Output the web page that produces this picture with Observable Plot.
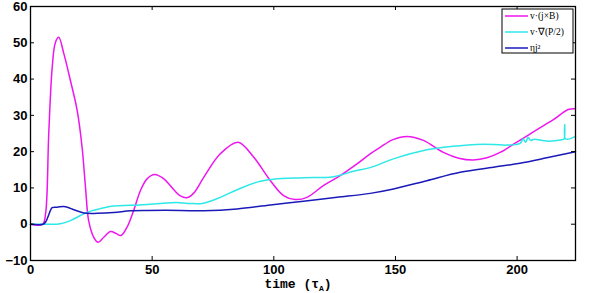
<!DOCTYPE html>
<html>
<head>
<meta charset="utf-8">
<script src="https://cdn.jsdelivr.net/npm/d3@7"></script>
<script src="https://cdn.jsdelivr.net/npm/@observablehq/plot@0.6"></script>
<style>
  html, body { margin: 0; padding: 0; background: #fff; }
  #chart svg { display: block; }
</style>
</head>
<body>
<div id="chart"></div>
<script>
// ---- data ----
const seriesNames = ["v·(j×B)", "v·∇(P/2)", "ηj²"];
const seriesColors = ["#ee16ee", "#2ee8e8", "#1a1ab8"];

const jxbTime = [0,5,6.2,7.5,8.9,10.2,11.6,13.7,16.4,19.2,21.2,22.6,23.9,26,27.8,30.1,32.9,35.3,37.2,39.7,42.4,45.2,47.9,51,54.8,58.9,61.6,64.3,67,71.2,78,85.3,91.7,98.6,104,108.8,113.6,120.5,127.3,134.2,139.6,143.7,149,154.7,161.5,169.7,176,182,187.6,193,199.9,208,214.9,221,224];
const jxbValue = [0,0,2.9,25,43,50,51.5,47,39.6,31.3,21.2,10.2,1,-3.6,-5,-3.6,-2.0,-2.6,-3.1,-0.8,3.8,9.3,12.5,13.7,12.5,9.5,7.8,7.3,8.5,12.9,19.4,22.6,18.5,12,7.9,6.8,7.4,10.7,13.4,16.6,19.4,21.2,23.3,24.2,23.1,19.8,18.2,17.7,18.3,19.8,22.6,26,28.8,31.6,31.8];

const gradPTime = [0,10,12.3,16.4,20.5,24.6,28.7,34.2,41,47.9,54.7,60,65.7,71.2,78,84.9,93.1,99.9,112.2,124.6,132.8,139.6,149.2,162.9,173.8,183.4,190.3,195.8,201.2,202.5,203.5,204.5,205.5,207,212.2,218.4,219.3,219.6,219.9,224];
const gradPValue = [0,0,0.1,1,2.4,3.6,4.3,5,5.2,5.4,5.8,6,5.7,5.8,7.4,9.5,11.6,12.4,12.8,13.1,14.6,15.6,18,20.5,21.5,22,22,21.8,22.3,23.5,22.6,24,23.1,23.4,22.9,23.3,23.5,27.4,23.5,24.2];

const ohmTime = [0,5.2,6.2,7.1,8.2,8.9,11,13.7,15.5,17.8,21.9,27.4,34.2,41,47.9,61.6,71.2,84.9,98.6,112.2,126,139.6,149.2,162.9,176.6,190.3,201.2,212.2,224];
const ohmValue = [0,0,0.6,1.9,3.8,4.6,4.7,4.9,4.6,4.0,3.1,3.0,3.2,3.7,3.8,3.8,3.7,4.2,5.3,6.3,7.4,8.5,9.7,12,14.3,15.7,16.8,18.3,20];

const xTicks = [0, 50, 100, 150, 200];
const yTicks = [-10, 0, 10, 20, 30, 40, 50, 60];
const xDomain = [0, 224];
const yDomain = [-10, 60];
const xLabelText = "time (τ";
const xLabelSub = "A";

// ---- build table ----
const rows = [];
[[jxbTime, jxbValue], [gradPTime, gradPValue], [ohmTime, ohmValue]].forEach(([ts, vs], i) => {
  ts.forEach((t, j) => rows.push({series: seriesNames[i], t, v: vs[j]}));
});

const W = 600, H = 293;
const mL = 30, mR = 25, mT = 6, mB = 33;
const innerW = W - mL - mR, innerH = H - mT - mB;
const tickLen = 4;

const plot = Plot.plot({
  width: W, height: H,
  marginLeft: mL, marginRight: mR, marginTop: mT, marginBottom: mB,
  style: {fontFamily: "'Liberation Sans', Arial, sans-serif", fontSize: "13px", fontWeight: "bold", background: "#fff", color: "#000"},
  x: {domain: xDomain, label: null},
  y: {domain: yDomain, label: null},
  color: {domain: seriesNames, range: seriesColors},
  marks: [
    Plot.line(rows, {x: "t", y: "v", z: "series", stroke: "series", strokeWidth: 1.5, curve: "catmull-rom"}),
    Plot.frame({stroke: "#000", strokeWidth: 1.3}),
    Plot.tickX(xTicks, {x: d => d, insetTop: innerH - tickLen, stroke: "#000"}),
    Plot.tickX(xTicks, {x: d => d, insetBottom: innerH - tickLen, stroke: "#000"}),
    Plot.tickY(yTicks, {y: d => d, insetRight: innerW - tickLen, stroke: "#000"}),
    Plot.tickY(yTicks, {y: d => d, insetLeft: innerW - tickLen, stroke: "#000"}),
    Plot.axisX({ticks: xTicks, tickSize: 0, tickPadding: 4, label: null, fontWeight: "bold"}),
    Plot.axisY({ticks: yTicks, tickSize: 0, tickPadding: 3, label: null, fontWeight: "bold"})
  ]
});

document.getElementById("chart").appendChild(plot);

const svg = d3.select(plot);

// x axis label with subscript
const lab = svg.append("text")
  .attr("x", 298).attr("y", 288)
  .attr("text-anchor", "middle")
  .attr("font-family", "'Liberation Mono', 'Courier New', monospace")
  .attr("font-size", 13).attr("font-weight", "bold").attr("fill", "#000");
lab.append("tspan").text(xLabelText);
lab.append("tspan").attr("font-size", 8).attr("dy", 3).text(xLabelSub);
lab.append("tspan").attr("dy", -3).text(")");

// legend
const lg = svg.append("g").attr("transform", "translate(502,9)");
lg.append("rect").attr("width", 71).attr("height", 44)
  .attr("fill", "#fff").attr("stroke", "#000").attr("stroke-width", 1);
seriesNames.forEach((name, i) => {
  const yy = 7 + i * 16;
  lg.append("line").attr("x1", 3).attr("x2", 26).attr("y1", yy).attr("y2", yy)
    .attr("stroke", seriesColors[i]).attr("stroke-width", 1.5);
  lg.append("text").attr("x", 28).attr("y", yy).attr("dy", "0.32em")
    .attr("text-anchor", "start")
    .attr("font-family", "'Liberation Serif', 'Times New Roman', serif")
    .attr("font-size", 9.5).attr("font-weight", "normal").attr("fill", "#000")
    .text(name);
});
</script>
</body>
</html>
